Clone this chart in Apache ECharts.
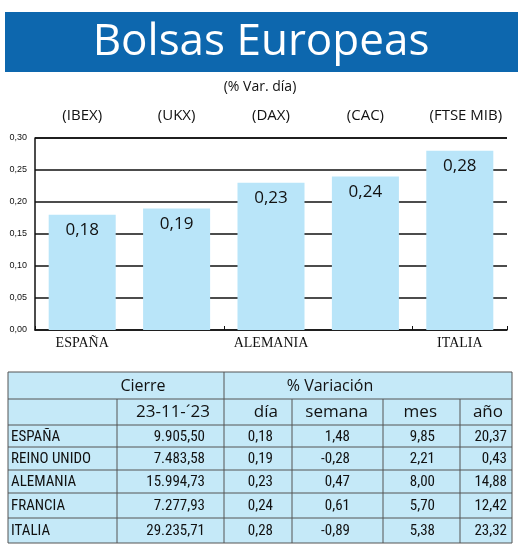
<!DOCTYPE html>
<html><head><meta charset="utf-8">
<script src="https://cdn.jsdelivr.net/npm/echarts@6/dist/echarts.min.js"></script>
<style>html,body{margin:0;padding:0;background:#fff}#c{width:520px;height:550px}</style>
</head><body><div id="c"></div>
<script>
const categories = ['ESPAÑA','REINO UNIDO','ALEMANIA','FRANCIA','ITALIA'];
const indices = ['(IBEX)','(UKX)','(DAX)','(CAC)','(FTSE MIB)'];
const dayVar = [0.18,0.19,0.23,0.24,0.28];
const closeVals = ['9.905,50','7.483,58','15.994,73','7.277,93','29.235,71'];
const dia = ['0,18','0,19','0,23','0,24','0,28'];
const semana = ['1,48','-0,28','0,47','0,61','-0,89'];
const mes = ['9,85','2,21','8,00','5,70','5,38'];
const anio = ['20,37','0,43','14,88','12,42','23,32'];
const yTicks = [0,0.05,0.10,0.15,0.20,0.25,0.30];

const chart = echarts.init(document.getElementById('c'));
const narrow = '"Liberation Sans Narrow", "Roboto Condensed", Arial';
const g = [];
g.push({type:'rect',shape:{x:5,y:12,width:513,height:60},style:{fill:'#0d67ae'}});
g.push({type:'text',style:{text:'Bolsas Europeas',x:261,y:42,fill:'#fff',font:'44px "Open Sans"',align:'center',verticalAlign:'middle'}});
g.push({type:'text',style:{text:'(% Var. día)',x:260,y:87,fill:'#111',font:'14px "Open Sans"',align:'center',verticalAlign:'middle'}});
// table
const L=8,R=512;
const cols=[8,117,224,292,383,460,512];
const rows=[372,399,425,447,470,493,518,543];
g.push({type:'rect',shape:{x:L,y:rows[0],width:R-L,height:rows[7]-rows[0]},style:{fill:'#c5e9f8',stroke:'#555',lineWidth:1}});
g.push({type:'line',shape:{x1:L,y1:rows[1],x2:R,y2:rows[1]},style:{stroke:'#555',lineWidth:1}});
g.push({type:'line',shape:{x1:L,y1:rows[2],x2:R,y2:rows[2]},style:{stroke:'#555',lineWidth:1}});
g.push({type:'line',shape:{x1:224,y1:rows[0],x2:224,y2:rows[7]},style:{stroke:'#555',lineWidth:1}});
for(const x of [117,292,383,460]) g.push({type:'line',shape:{x1:x,y1:rows[1],x2:x,y2:rows[7]},style:{stroke:'#555',lineWidth:1}});
for(let r=3;r<7;r++) g.push({type:'line',shape:{x1:L,y1:rows[r],x2:R,y2:rows[r]},style:{stroke:'#555',lineWidth:1}});
g.push({type:'text',style:{text:'Cierre',x:143,y:386,font:'16px "Open Sans"',fill:'#111',align:'center',verticalAlign:'middle'}});
g.push({type:'text',style:{text:'% Variación',x:330,y:386,font:'16px "Open Sans"',fill:'#111',align:'center',verticalAlign:'middle'}});
const heads=['23-11-´23','día','semana','mes','año'];
const hx=[210,278,368,437,503];
heads.forEach((h,i)=>g.push({type:'text',style:{text:h,x:hx[i]-(i==0?0:0),y:412,font:'17px "Open Sans"',fill:'#111',align:'right',verticalAlign:'middle'}}));
const cellFont='15px '+narrow;
categories.forEach((c,i)=>{
  const y=(rows[i+2]+rows[i+3])/2+1;
  g.push({type:'text',style:{text:c,x:11,y,font:cellFont,fill:'#111',verticalAlign:'middle'}});
  [closeVals[i],dia[i],semana[i],mes[i],anio[i]].forEach((v,j)=>{
    g.push({type:'text',style:{text:v,x:[205,273,350,435,507][j],y,font:cellFont,fill:'#111',align:'right',verticalAlign:'middle'}});
  });
});
indices.forEach((t,i)=>g.push({type:'text',style:{text:t,x:35+472*(i+0.5)/5+(i==4?6:0),y:116,font:'15px "Open Sans"',fill:'#111',align:'center',verticalAlign:'middle'}}));
g.push({type:'line',shape:{x1:35,y1:138,x2:507,y2:138},style:{stroke:'#111',lineWidth:1.5}});

chart.setOption({
  animation:false,
  grid:{left:35,right:13,top:138,height:192},
  xAxis:{type:'category',data:categories,axisLine:{lineStyle:{color:'#111',width:1.5}},
    axisTick:{show:true,inside:true,length:4,lineStyle:{color:'#111'}},
    axisLabel:{color:'#111',font:'13px '+narrow,fontFamily:'Liberation Sans Narrow',fontSize:14,margin:6}},
  yAxis:{type:'value',min:0,max:0.3,interval:0.05,
    axisLine:{show:true,lineStyle:{color:'#111',width:1.5}},
    splitLine:{lineStyle:{color:'#111',width:1.5}},
    axisLabel:{color:'#111',fontSize:9,fontFamily:'Arial',margin:8,formatter:v=>v.toFixed(2).replace('.',',')}},
  series:[{type:'bar',data:dayVar,barWidth:'71%',itemStyle:{color:'#b9e5f9'},
    label:{show:true,position:'insideTop',offset:[0,2],color:'#111',fontFamily:'Open Sans',fontSize:17,
      formatter:p=>p.value.toFixed(2).replace('.',',')}}],
  graphic:g
});
</script></body></html>
